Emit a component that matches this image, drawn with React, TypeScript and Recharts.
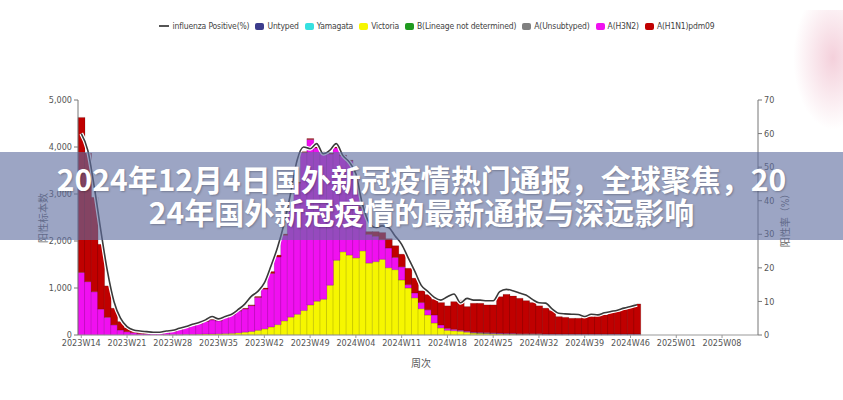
import React from 'react';
import { ComposedChart, Bar, Line, XAxis, YAxis } from 'recharts';

// 周次：2023W14 ~ 2025W13（横轴类目）
function weekRange(year: number, from: number, to: number) {
  const out: string[] = [];
  for (let w = from; w <= to; w++) out.push(`${year}W${String(w).padStart(2, '0')}`);
  return out;
}
const weeks = [...weekRange(2023, 14, 52), ...weekRange(2024, 1, 52), ...weekRange(2025, 1, 13)];

// 阳性标本数（2023W14 ~ 2024W47）
const h1n1 = [
  3300, 2735, 2010, 1380, 670, 355, 180, 85, 45, 25, 15, 10, 10, 10, 10, 10, 10, 10, 10, 10,
  10, 10, 10, 10, 10, 15, 15, 20, 25, 40, 40, 30, 20, 20, 20, 20, 20, 20, 20, 20,
  20, 20, 30, 40, 60, 100, 150, 200, 250, 270, 350, 316, 250, 325, 335, 477, 480, 590, 645, 525,
  615, 620, 590, 595, 775, 830, 795, 755, 705, 665, 595, 550, 500, 370, 355, 335, 335, 405, 370, 440,
  405, 480, 525, 545, 570, 640,
];
const h3n2 = [
  1330, 1135, 920, 550, 375, 215, 105, 70, 50, 30, 25, 30, 35, 45, 70, 110, 150, 190, 225, 270,
  300, 275, 340, 395, 465, 495, 550, 700, 845, 1140, 1440, 1820, 2250, 2790, 3360, 3520, 3260, 3120, 2790, 2390,
  2040, 2000, 1700, 900, 610, 540, 420, 420, 260, 280, 70, 104, 130, 110, 170, 63, 40, 30, 20, 20,
  10, 10, 10, 10, 10, 10, 10, 8, 8, 8, 8, 8, 8, 8, 8, 8, 8, 8, 8, 8,
  8, 8, 8, 8, 8, 8,
];
const aUnsubtyped = [
  0, 0, 0, 0, 0, 0, 0, 0, 0, 0, 0, 0, 0, 0, 0, 0, 0, 0, 0, 0,
  0, 0, 0, 0, 0, 0, 0, 0, 0, 0, 0, 0, 0, 0, 0, 0, 0, 0, 0, 0,
  0, 0, 0, 0, 0, 0, 0, 0, 0, 0, 0, 0, 0, 0, 0, 0, 0, 0, 0, 0,
  10, 10, 10, 10, 10, 10, 10, 8, 8, 8, 8, 8, 8, 8, 8, 8, 8, 8, 8, 8,
  8, 8, 8, 8, 8, 8,
];
const bNotDetermined = [
  0, 0, 0, 0, 0, 0, 0, 0, 0, 0, 0, 0, 0, 0, 0, 0, 0, 0, 0, 0,
  0, 0, 0, 0, 0, 0, 0, 0, 0, 0, 0, 0, 0, 0, 0, 0, 0, 0, 0, 0,
  0, 0, 0, 0, 0, 0, 0, 0, 0, 0, 0, 0, 0, 0, 0, 0, 0, 0, 0, 0,
  0, 0, 0, 0, 0, 0, 0, 0, 0, 0, 0, 0, 0, 0, 0, 0, 0, 0, 0, 0,
  0, 0, 0, 0, 0, 0,
];
const victoria = [
  0, 0, 0, 0, 0, 0, 0, 0, 0, 0, 0, 0, 0, 5, 5, 5, 10, 10, 15, 20,
  20, 25, 30, 35, 45, 60, 75, 100, 130, 170, 220, 300, 380, 440, 520, 640, 720, 760, 1060, 1590,
  1770, 1700, 1640, 1790, 1530, 1560, 1610, 1430, 1390, 1170, 1000, 790, 560, 425, 255, 150, 100, 90, 80, 60,
  40, 35, 30, 25, 20, 15, 15, 10, 10, 10, 10, 5, 5, 5, 5, 5, 5, 5, 5, 5,
  5, 5, 5, 5, 5, 5,
];
const yamagata = new Array(86).fill(0);
const untyped = new Array(86).fill(0);

// 阳性率（%）
const positivity = [
  60, 55, 44, 31, 19, 10, 5, 2.5, 1.5, 1.2, 1, 0.8, 0.8, 1.2, 1.4, 2, 2.5, 3.2, 3.7, 4.5,
  5.5, 4.8, 5.5, 6.2, 7.6, 9.2, 11.5, 13, 15.5, 20.5, 26, 33, 42, 52, 56, 55.5, 57, 54, 55, 57,
  53.5, 51.5, 48, 39, 33.5, 32, 32.5, 32, 29.5, 27, 23, 19, 14.8, 13, 11.2, 10.4, 11.4, 12.2, 9.6, 10.9,
  10.4, 10.4, 10.2, 10.2, 12.9, 13.6, 13.2, 12.5, 11.9, 10.6, 9.6, 9.5, 7.8, 6.5, 6.3, 6.2, 6.1, 5.5, 6.2, 6,
  6.6, 7, 7.4, 8, 8.5, 9,
];

const leftTicks = [0, 1000, 2000, 3000, 4000, 5000];
const rightTicks = [0, 10, 20, 30, 40, 50, 60, 70];

const series = [
  { key: 'untyped', name: 'Untyped', color: '#3c3c8c' },
  { key: 'yamagata', name: 'Yamagata', color: '#35e0e0' },
  { key: 'victoria', name: 'Victoria', color: '#f6f600' },
  { key: 'bNotDetermined', name: 'B(Lineage not determined)', color: '#1f9a1f' },
  { key: 'aUnsubtyped', name: 'A(Unsubtyped)', color: '#808080' },
  { key: 'h3n2', name: 'A(H3N2)', color: '#f010f0' },
  { key: 'h1n1', name: 'A(H1N1)pdm09', color: '#c00000' },
];

const data = weeks.map((week, i) => ({
  week,
  untyped: untyped[i],
  yamagata: yamagata[i],
  victoria: victoria[i],
  bNotDetermined: bNotDetermined[i],
  aUnsubtyped: aUnsubtyped[i],
  h3n2: h3n2[i],
  h1n1: h1n1[i],
  positivity: positivity[i],
}));

const font = "'Liberation Sans Narrow', 'DejaVu Sans Condensed', Roboto, 'Noto Sans CJK SC', sans-serif";
const tickStyle = { fontSize: 9, fill: '#555', fontFamily: font };

function ChartLegend() {
  return (
    <div
      style={{
        position: 'absolute', top: 21, left: 0, width: 843, display: 'flex', justifyContent: 'center',
        alignItems: 'center', gap: 6, fontSize: 8.5, letterSpacing: -0.15, color: '#444', fontFamily: font,
        paddingLeft: 30, boxSizing: 'border-box',
      }}
    >
      <span style={{ display: 'flex', alignItems: 'center', gap: 4 }}>
        <span style={{ width: 10, height: 2, background: '#555', display: 'inline-block' }} />
        influenza Positive(%)
      </span>
      {series.map((s) => (
        <span key={s.key} style={{ display: 'flex', alignItems: 'center', gap: 3 }}>
          <span style={{ width: 9, height: 7, borderRadius: 2, background: s.color, display: 'inline-block' }} />
          {s.name}
        </span>
      ))}
    </div>
  );
}

export default function App() {
  return (
    <div style={{ position: 'absolute', left: 0, top: 0, width: 843, height: 400, background: '#fff', overflow: 'hidden' }}>
      <ComposedChart width={843} height={400} data={data} margin={{ top: 100, right: 40, bottom: 35, left: 0 }} barCategoryGap={0} barGap={0}>
        <XAxis
          dataKey="week"
          interval={6}
          tick={tickStyle}
          tickSize={3}
          tickMargin={2}
          height={30}
          axisLine={{ stroke: '#999' }}
          tickLine={{ stroke: '#999' }}
        />
        <YAxis
          yAxisId="left"
          width={78}
          domain={[0, 5000]}
          ticks={leftTicks}
          tick={tickStyle}
          tickSize={4}
          tickMargin={2}
          tickFormatter={(v: number) => v.toLocaleString('en-US')}
          axisLine={{ stroke: '#777' }}
          tickLine={{ stroke: '#777' }}
        />
        <YAxis
          yAxisId="right"
          orientation="right"
          width={45}
          domain={[0, 70]}
          ticks={rightTicks}
          tick={tickStyle}
          tickSize={4}
          tickMargin={2}
          axisLine={{ stroke: '#777' }}
          tickLine={{ stroke: '#777' }}
        />
        {series.map((s) => (
          <Bar
            key={s.key}
            yAxisId="left"
            dataKey={s.key}
            name={s.name}
            stackId="flu"
            fill={s.color}
            stroke="rgba(0,0,0,0.3)"
            strokeWidth={0.5}
            isAnimationActive={false}
          />
        ))}
        <Line
          yAxisId="right"
          type="monotone"
          dataKey="positivity"
          stroke="#ffffff"
          strokeWidth={4}
          dot={false}
          legendType="none"
          isAnimationActive={false}
        />
        <Line
          yAxisId="right"
          type="monotone"
          dataKey="positivity"
          name="influenza Positive(%)"
          stroke="#3a3a3a"
          strokeWidth={1.6}
          dot={false}
          isAnimationActive={false}
        />
      </ComposedChart>

      <ChartLegend />

      <div style={{ position: 'absolute', left: 42, top: 218, transform: 'translate(-50%, -50%) rotate(-90deg)', fontSize: 10, color: '#666', fontFamily: font, whiteSpace: 'nowrap' }}>
        阳性标本数
      </div>
      <div style={{ position: 'absolute', left: 784, top: 218, transform: 'translate(-50%, -50%) rotate(-90deg)', fontSize: 10, color: '#666', fontFamily: font, whiteSpace: 'nowrap' }}>
        阳性率（%）
      </div>
      <div style={{ position: 'absolute', left: 421, top: 362, transform: 'translate(-50%, -50%)', fontSize: 10, color: '#555', fontFamily: font }}>
        周次
      </div>

      <div
        style={{
          position: 'absolute', right: 0, top: 10, width: 50, height: 120,
          background: 'radial-gradient(ellipse at 80% 40%, rgba(235,170,190,0.55), rgba(255,255,255,0) 70%)',
        }}
      />

      <div
        style={{
          position: 'absolute', left: 0, top: 152, width: 843, height: 88,
          background: 'rgba(95,110,160,0.62)', color: '#fff', textAlign: 'center',
          fontFamily: "'Noto Sans CJK SC', sans-serif", fontWeight: 700, fontSize: 30, lineHeight: '33px',
          paddingTop: 10, boxSizing: 'border-box', textShadow: '1px 1px 2px rgba(0,0,0,0.25)',
        }}
      >
        2024年12月4日国外新冠疫情热门通报，全球聚焦，20
        <br />
        24年国外新冠疫情的最新通报与深远影响
      </div>
    </div>
  );
}
